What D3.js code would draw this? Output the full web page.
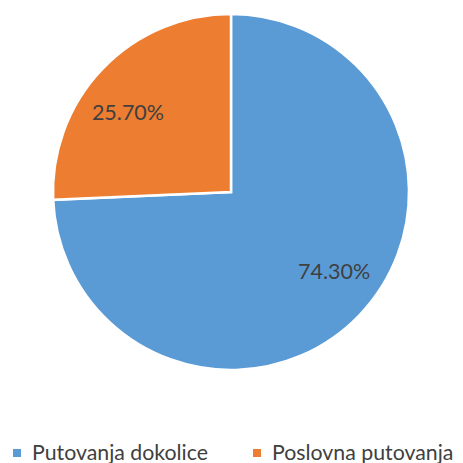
<!DOCTYPE html>
<html>
<head>
<meta charset="utf-8">
<script src="https://cdn.jsdelivr.net/npm/d3@7"></script>
<style>
  body { margin: 0; background: #fff; }
  svg { display: block; font-family: Lato, "Open Sans", sans-serif; }
</style>
</head>
<body>
<div id="chart"></div>
<script>
'use strict';

var categories = ['Putovanja dokolice', 'Poslovna putovanja'];
var values = [74.3, 25.7];
var labels = ['74.30%', '25.70%'];
var colors = ['#5B9BD5', '#ED7D31'];

var width = 463;
var height = 463;
var cx = 231;
var cy = 192;
var radius = 178;

var svg = d3.select('#chart').append('svg')
	.attr('width', width)
	.attr('height', height);

var data = categories.map(function(c, i){
	return {key: c, value: values[i], label: labels[i], color: colors[i]};
});

var pie = d3.pie()
	.sort(null)
	.value(function(d){ return d.value; });

var arc = d3.arc()
	.innerRadius(0)
	.outerRadius(radius);

var g = svg.append('g')
	.attr('transform', 'translate(' + cx + ',' + cy + ')');

var arcs = pie(data);

g.selectAll('path.slice')
	.data(arcs)
	.enter()
	.append('path')
	.attr('class', 'slice')
	.attr('d', arc)
	.style('fill', function(d){ return d.data.color; })
	.style('stroke', '#fff')
	.style('stroke-width', 2.5);

// labels sit a bit off the mid angle, like the best-fit placement
var labelR = radius * 0.73;
var shift = -6.2 * Math.PI / 180;

g.selectAll('text.label')
	.data(arcs)
	.enter()
	.append('text')
	.attr('class', 'label')
	.attr('x', function(d){ return labelR * Math.sin((d.startAngle + d.endAngle) / 2 + shift); })
	.attr('y', function(d){ return -labelR * Math.cos((d.startAngle + d.endAngle) / 2 + shift); })
	.attr('text-anchor', 'middle')
	.attr('dy', '0.35em')
	.style('font-size', '21.5px')
	.style('fill', '#404040')
	.text(function(d){ return d.data.label; });

// legend
var legendX = [13, 253];
var legend = svg.selectAll('g.legend')
	.data(data)
	.enter()
	.append('g')
	.attr('class', 'legend')
	.attr('transform', function(d, i){ return 'translate(' + legendX[i] + ',453)'; });

legend.append('rect')
	.attr('x', 0)
	.attr('y', -4)
	.attr('width', 8)
	.attr('height', 8)
	.style('fill', function(d){ return d.color; });

legend.append('text')
	.attr('x', 19)
	.attr('y', 6.5)
	.style('font-size', '21.3px')
	.style('fill', '#404040')
	.text(function(d){ return d.key; });
</script>
</body>
</html>
